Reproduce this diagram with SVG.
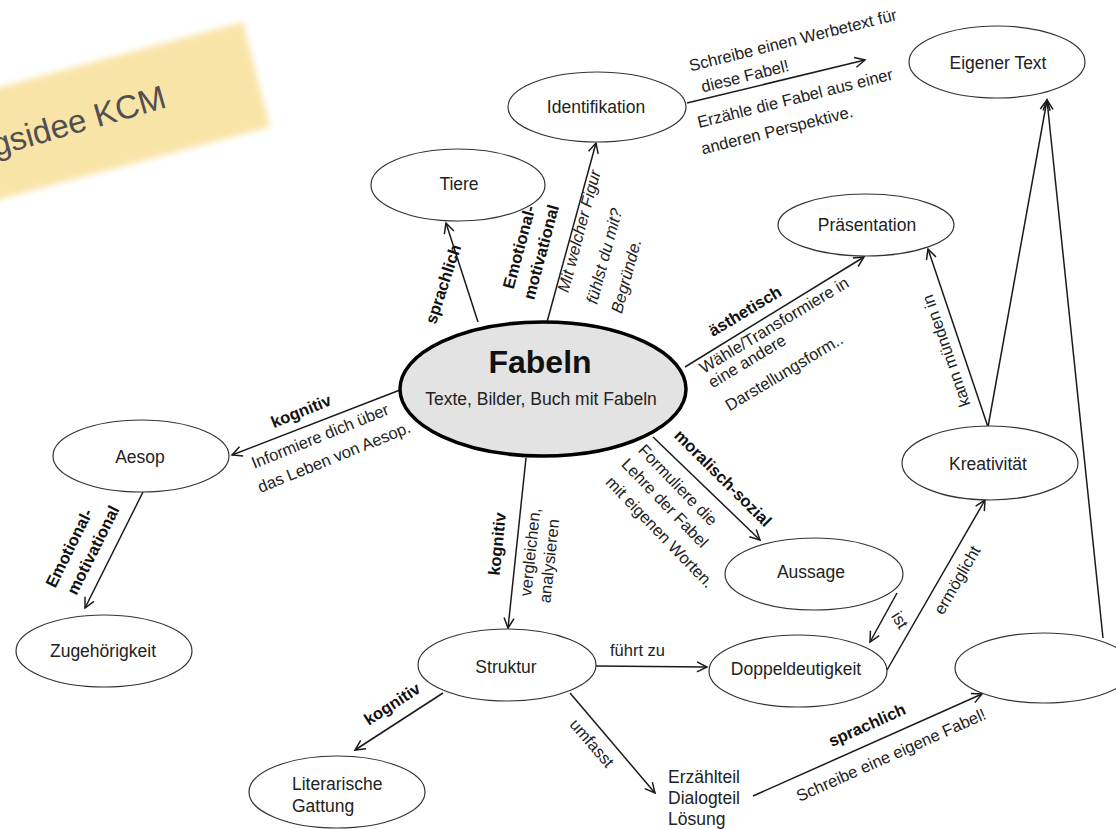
<svg xmlns="http://www.w3.org/2000/svg" width="1116" height="829" viewBox="0 0 1116 829">
<defs>
<style>
.n{fill:#fff;stroke:#333;stroke-width:1.2}
.t{font-family:"Liberation Sans",Arial,sans-serif;font-size:17.5px;fill:#222;text-anchor:middle}
.tl{font-family:"Liberation Sans",Arial,sans-serif;font-size:17.5px;fill:#222}
.e{stroke:#1a1a1a;stroke-width:1.5;fill:none;marker-end:url(#ah)}
.b{font-family:"Liberation Sans",Arial,sans-serif;font-size:16.5px;font-weight:bold;fill:#111;text-anchor:middle}
.r{font-family:"Liberation Sans",Arial,sans-serif;font-size:16.5px;fill:#222;text-anchor:middle}
.rs{font-family:"Liberation Sans",Arial,sans-serif;font-size:16.5px;fill:#222}
.i{font-family:"Liberation Sans",Arial,sans-serif;font-size:16.5px;font-style:italic;fill:#222;text-anchor:middle}
</style>
<marker id="ah" markerUnits="userSpaceOnUse" markerWidth="14" markerHeight="14" refX="11" refY="6" orient="auto">
<path d="M1,1 L11,6 L1,11" fill="none" stroke="#1a1a1a" stroke-width="1.5"/>
</marker>
<filter id="soft" x="-10%" y="-10%" width="120%" height="120%"><feGaussianBlur stdDeviation="3"/></filter>
</defs>
<rect width="1116" height="829" fill="#fff"/>
<g id="sticky">
<polygon points="-56,102 243,22 270,127 -30,207" fill="#f9e4a8" filter="url(#soft)"/>
<text transform="translate(168,107) rotate(-16)" font-family="'Liberation Sans',Arial,sans-serif" font-size="33" fill="#505050" text-anchor="end">gsidee KCM</text>
</g>
<g id="connectors">
<line class="e" x1="478" y1="322" x2="446" y2="223"/>
<line class="e" x1="547" y1="322" x2="596" y2="143"/>
<line class="e" x1="687" y1="103" x2="865" y2="60"/>
<line class="e" x1="685" y1="367" x2="864" y2="257"/>
<line class="e" x1="400" y1="390" x2="232" y2="455"/>
<line class="e" x1="143" y1="492" x2="85" y2="608"/>
<line class="e" x1="526" y1="458" x2="508" y2="628"/>
<line class="e" x1="653" y1="437" x2="760" y2="540"/>
<line class="e" x1="443" y1="693" x2="355" y2="750"/>
<line class="e" x1="596" y1="666" x2="707" y2="667"/>
<line class="e" x1="570" y1="693" x2="655" y2="793"/>
<line class="e" x1="753" y1="796" x2="982" y2="694"/>
<line class="e" x1="897" y1="593" x2="870" y2="642"/>
<line class="e" x1="887" y1="670" x2="985" y2="500"/>
<line class="e" x1="988" y1="427" x2="928" y2="249"/>
<line class="e" x1="988" y1="427" x2="1047" y2="100"/>
<line class="e" x1="1103" y1="638" x2="1047" y2="100"/>
<text class="b" transform="translate(443,284) rotate(-72)" dy="0.35em">sprachlich</text>
<text class="b" transform="translate(519,247) rotate(-75)" dy="0.35em">Emotional-</text>
<text class="b" transform="translate(541,252) rotate(-75)" dy="0.35em">motivational</text>
<text class="i" transform="translate(579,231) rotate(-75)" dy="0.35em">Mit welcher Figur</text>
<text class="i" transform="translate(604,256) rotate(-75)" dy="0.35em">fühlst du mit?</text>
<text class="i" transform="translate(626,276) rotate(-75)" dy="0.35em">Begründe.</text>
<text class="r" transform="translate(793,40) rotate(-14)" dy="0.35em">Schreibe einen Werbetext für</text>
<text class="r" transform="translate(745,76) rotate(-14)" dy="0.35em">diese Fabel!</text>
<text class="r" transform="translate(795,98) rotate(-14)" dy="0.35em">Erzähle die Fabel aus einer</text>
<text class="r" transform="translate(777,130) rotate(-14)" dy="0.35em">anderen Perspektive.</text>
<text class="b" transform="translate(745,311) rotate(-31)" dy="0.35em">ästhetisch</text>
<text class="r" transform="translate(774,325) rotate(-31)" dy="0.35em">Wähle/Transformiere in</text>
<text class="r" transform="translate(747,361) rotate(-31)" dy="0.35em">eine andere</text>
<text class="r" transform="translate(784,372) rotate(-31)" dy="0.35em">Darstellungsform..</text>
<text class="b" transform="translate(301,411) rotate(-22)" dy="0.35em">kognitiv</text>
<text class="r" transform="translate(320,436) rotate(-22)" dy="0.35em">Informiere dich über</text>
<text class="r" transform="translate(334,457) rotate(-22)" dy="0.35em">das Leben von Aesop.</text>
<text class="b" transform="translate(69,548) rotate(-63.6)" dy="0.35em">Emotional-</text>
<text class="b" transform="translate(93,550) rotate(-63.6)" dy="0.35em">motivational</text>
<text class="b" transform="translate(497,544) rotate(-84)" dy="0.35em">kognitiv</text>
<text class="r" transform="translate(530,552) rotate(-84)" dy="0.35em">vergleichen,</text>
<text class="r" transform="translate(549,561) rotate(-84)" dy="0.35em">analysieren</text>
<text class="b" transform="translate(723,478) rotate(45)" dy="0.35em">moralisch-sozial</text>
<text class="r" transform="translate(678,485) rotate(46)" dy="0.35em">Formuliere die</text>
<text class="r" transform="translate(665,503) rotate(46)" dy="0.35em">Lehre der Fabel</text>
<text class="r" transform="translate(660,532) rotate(46)" dy="0.35em">mit eigenen Worten.</text>
<text class="b" transform="translate(392,704) rotate(-33)" dy="0.35em">kognitiv</text>
<text class="rs" x="610" y="656">führt zu</text>
<text class="r" transform="translate(592,743) rotate(49)" dy="0.35em">umfasst</text>
<text class="b" transform="translate(867,725) rotate(-24)" dy="0.35em">sprachlich</text>
<text class="r" transform="translate(891,755) rotate(-24)" dy="0.35em">Schreibe eine eigene Fabel!</text>
<text class="r" transform="translate(900,620) rotate(58)" dy="0.35em">ist</text>
<text class="r" transform="translate(957,580) rotate(-60)" dy="0.35em">ermöglicht</text>
<text class="r" transform="translate(946,351) rotate(-109)" dy="0.35em">kann münden in</text>
</g>
<g id="n-fabeln">
<ellipse cx="543" cy="389" rx="143" ry="67" fill="#e3e3e3" stroke="#000" stroke-width="3.5"/>
<text x="540" y="373" font-family="'Liberation Sans',Arial,sans-serif" font-size="32" font-weight="bold" fill="#111" text-anchor="middle">Fabeln</text>
<text class="t" x="541" y="405">Texte, Bilder, Buch mit Fabeln</text>
</g>
<g id="n-tiere"><ellipse class="n" cx="458" cy="185" rx="87" ry="36"/><text class="t" x="459" y="190">Tiere</text></g>
<g id="n-identifikation"><ellipse class="n" cx="597" cy="107" rx="89" ry="35"/><text class="t" x="596" y="113">Identifikation</text></g>
<g id="n-eigener-text"><ellipse class="n" cx="997" cy="62" rx="88" ry="36"/><text class="t" x="998" y="69">Eigener Text</text></g>
<g id="n-praesentation"><ellipse class="n" cx="866" cy="225" rx="88" ry="31"/><text class="t" x="867" y="231">Präsentation</text></g>
<g id="n-aesop"><ellipse class="n" cx="141" cy="456" rx="88" ry="36"/><text class="t" x="140" y="463">Aesop</text></g>
<g id="n-zugehoerigkeit"><ellipse class="n" cx="104" cy="651" rx="88" ry="36"/><text class="t" x="103" y="657">Zugehörigkeit</text></g>
<g id="n-kreativitaet"><ellipse class="n" cx="990" cy="463" rx="88" ry="37"/><text class="t" x="988" y="470">Kreativität</text></g>
<g id="n-aussage"><ellipse class="n" cx="814" cy="574" rx="89" ry="36"/><text class="t" x="811" y="578">Aussage</text></g>
<g id="n-doppeldeutigkeit"><ellipse class="n" cx="798" cy="671" rx="89" ry="36"/><text class="t" x="796" y="675">Doppeldeutigkeit</text></g>
<g id="n-leer"><ellipse class="n" cx="1044" cy="668" rx="89" ry="35"/></g>
<g id="n-struktur"><ellipse class="n" cx="507" cy="665" rx="89" ry="36"/><text class="t" x="506" y="673">Struktur</text></g>
<g id="n-literarische-gattung"><ellipse class="n" cx="337" cy="792" rx="88" ry="36"/><text class="tl" x="292" y="790">Literarische</text><text class="tl" x="292" y="812">Gattung</text></g>
<g id="n-erzaehlteil"><text class="tl" x="668" y="783">Erzählteil</text><text class="tl" x="668" y="804">Dialogteil</text><text class="tl" x="668" y="825">Lösung</text></g>
</svg>
